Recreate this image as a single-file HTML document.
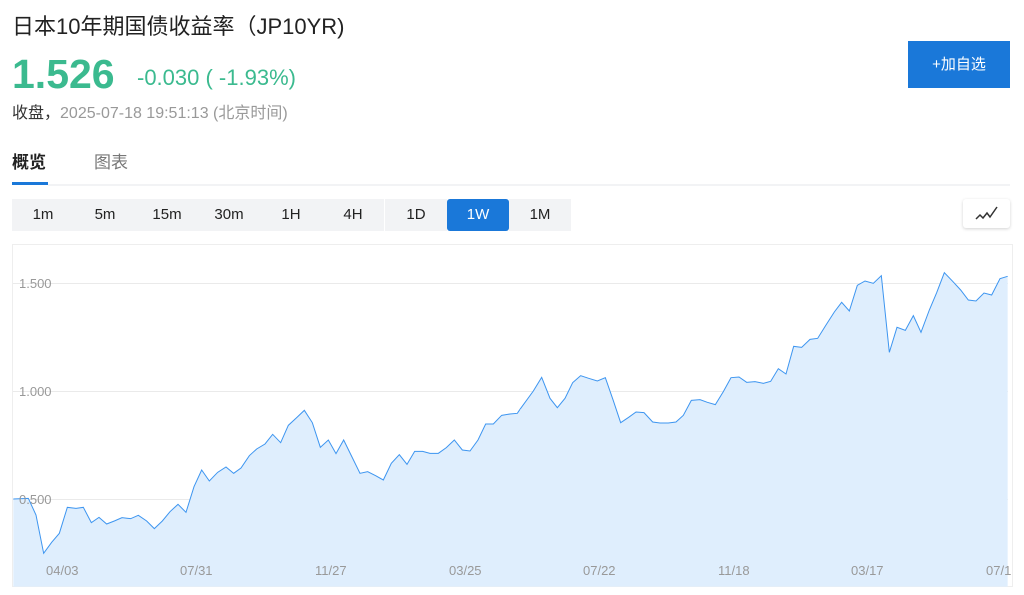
<!DOCTYPE html>
<html><head><meta charset="utf-8"><style>
body{margin:0;width:1024px;height:595px;background:#fff;font-family:"Liberation Sans","Noto Sans CJK SC",sans-serif;position:relative;overflow:hidden}
.a{position:absolute;white-space:nowrap}
.tf{position:absolute;top:199px;height:32px;width:62px;background:#f2f3f5;text-align:center;line-height:32px;font-size:15px;color:#222}
</style></head><body>
<div class="a" style="left:12px;top:9px;font-size:22px;color:#222">日本10年期国债收益率（JP10YR)</div>
<div class="a" style="left:12px;top:52px;font-size:41px;font-weight:bold;color:#3bba8f;line-height:44px">1.526</div>
<div class="a" style="left:137px;top:65px;font-size:22px;color:#3bba8f">-0.030 ( -1.93%)</div>
<div class="a" style="left:12px;top:99px;font-size:16px;color:#333">收盘，<span style="color:#999">2025-07-18 19:51:13 (北京时间)</span></div>
<div class="a" style="left:908px;top:41px;width:102px;height:47px;background:#1a78d9;color:#fff;font-size:15px;text-align:center;line-height:47px">+加自选</div>
<div class="a" style="left:12px;top:148px;font-size:17px;font-weight:bold;color:#222">概览</div>
<div class="a" style="left:94px;top:148px;font-size:17px;color:#777">图表</div>
<div class="a" style="left:12px;top:182px;width:36px;height:3px;background:#1a78d9"></div>
<div class="a" style="left:48px;top:184px;width:962px;height:2px;background:#f2f3f5"></div>
<div class="tf" style="left:12px">1m</div><div class="tf" style="left:74px">5m</div><div class="tf" style="left:136px">15m</div><div class="tf" style="left:198px">30m</div><div class="tf" style="left:260px">1H</div><div class="tf" style="left:322px">4H</div><div class="tf" style="left:385px">1D</div><div class="tf" style="left:447px;background:#1a78d9;color:#fff;border-radius:3px">1W</div><div class="tf" style="left:509px">1M</div>
<div class="a" style="left:963px;top:199px;width:47px;height:29px;background:#fff;box-shadow:0 1px 3px rgba(0,0,0,.18);border-radius:3px">
<svg width="47" height="29"><polyline points="13,20 17,16 20,19 24,14 27,18 34,8" fill="none" stroke="#333" stroke-width="1.5"/></svg></div>
<svg class="a" style="left:0;top:0" width="1024" height="595">
<rect x="12.5" y="244.5" width="1000" height="342" fill="none" stroke="#eee"/>
<g stroke="#eaeaea" stroke-width="1"><line x1="13" x2="1008" y1="283.5" y2="283.5"/><line x1="13" x2="1008" y1="391.5" y2="391.5"/><line x1="13" x2="1008" y1="499.5" y2="499.5"/></g>
<g transform="translate(0,240) scale(0.33333)">
<path fill="#dfeefd" d="M40,777 85,775 108,825 131,940 155,907 178,880 202,802 228,805 250,802 274,848 297,832 320,852 343,843 366,833 392,836 415,826 440,843 463,866 487,843 510,815 534,793 558,817 582,740 605,690 628,723 653,697 678,681 701,700 723,684 748,647 770,627 795,612 818,583 842,608 865,556 890,533 913,511 937,548 961,622 985,600 1008,641 1031,600 1056,651 1080,700 1103,695 1127,707 1150,720 1174,670 1198,644 1221,673 1244,634 1268,634 1290,640 1315,640 1339,623 1363,600 1387,630 1410,633 1434,600 1457,552 1480,552 1505,526 1530,522 1552,520 1563,508 1563,1040 40,1040Z"/>
<polyline fill="none" stroke="#3d95f0" stroke-width="3" points="40,777 85,775 108,825 131,940 155,907 178,880 202,802 228,805 250,802 274,848 297,832 320,852 343,843 366,833 392,836 415,826 440,843 463,866 487,843 510,815 534,793 558,817 582,740 605,690 628,723 653,697 678,681 701,700 723,684 748,647 770,627 795,612 818,583 842,608 865,556 890,533 913,511 937,548 961,622 985,600 1008,641 1031,600 1056,651 1080,700 1103,695 1127,707 1150,720 1174,670 1198,644 1221,673 1244,634 1268,634 1290,640 1315,640 1339,623 1363,600 1387,630 1410,633 1434,600 1457,552 1480,552 1505,526 1530,522 1552,520 1560,508"/>
</g>
<g transform="translate(520,240) scale(0.33333)">
<path fill="#dfeefd" d="M0,508 40,453 65,412 90,475 112,503 135,475 158,428 182,407 206,415 232,423 256,413 280,482 302,548 326,532 348,516 372,518 398,546 420,549 445,549 468,546 490,526 514,481 540,479 562,487 586,494 610,455 633,413 657,411 680,427 705,425 730,430 752,424 775,386 798,402 821,319 845,322 870,298 893,295 918,255 943,216 965,187 988,213 1012,136 1035,123 1060,130 1084,107 1108,337 1131,262 1156,271 1180,227 1203,277 1228,210 1250,158 1273,98 1298,124 1322,150 1345,180 1368,183 1392,159 1415,165 1440,116 1463,109 1463,1040 0,1040Z"/>
<polyline fill="none" stroke="#3d95f0" stroke-width="3" points="0,508 40,453 65,412 90,475 112,503 135,475 158,428 182,407 206,415 232,423 256,413 280,482 302,548 326,532 348,516 372,518 398,546 420,549 445,549 468,546 490,526 514,481 540,479 562,487 586,494 610,455 633,413 657,411 680,427 705,425 730,430 752,424 775,386 798,402 821,319 845,322 870,298 893,295 918,255 943,216 965,187 988,213 1012,136 1035,123 1060,130 1084,107 1108,337 1131,262 1156,271 1180,227 1203,277 1228,210 1250,158 1273,98 1298,124 1322,150 1345,180 1368,183 1392,159 1415,165 1440,116 1463,109"/>
</g>
<g font-family="Liberation Sans,sans-serif" font-size="13" fill="#999">
<text x="19" y="288">1.500</text><text x="19" y="396">1.000</text><text x="19" y="504">0.500</text>
<text x="46" y="575">04/03</text><text x="180" y="575">07/31</text><text x="315" y="575">11/27</text><text x="449" y="575">03/25</text><text x="583" y="575">07/22</text><text x="718" y="575">11/18</text><text x="851" y="575">03/17</text><text x="986" y="575">07/1</text>
</g>
</svg>
</body></html>
